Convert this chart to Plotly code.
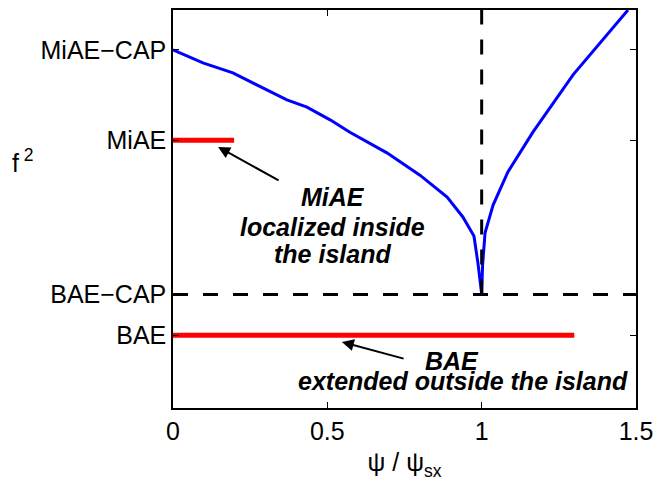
import plotly.graph_objects as go

# y-level positions (arbitrary f^2 units, 0..1 axis range)
level_names = ["BAE", "BAE\u2212CAP", "MiAE", "MiAE\u2212CAP"]
level_values = [0.183, 0.285, 0.673, 0.900]

# continuum curve (left & right of separatrix)
curve_x = [0.0, 0.097, 0.194, 0.282, 0.369, 0.434, 0.509, 0.573, 0.693, 0.800, 0.888, 0.939,
           0.975, 0.988, 0.994, 1.0,
           1.003, 1.011, 1.037, 1.085, 1.166, 1.296, 1.474]
curve_y = [0.900, 0.867, 0.842, 0.807, 0.774, 0.756, 0.724, 0.693, 0.641, 0.585, 0.530, 0.480,
           0.432, 0.364, 0.329, 0.286,
           0.359, 0.440, 0.510, 0.593, 0.693, 0.837, 1.000]

# mode extents
miae_x = [0.0, 0.198]
bae_x = [0.0, 1.30]

# separatrix guides
sep_x = 1.0
x_range = [0.0, 1.5]
y_range = [0.0, 1.0]
x_ticks = [0, 0.5, 1, 1.5]
x_ticklabels = ["0", "0.5", "1", "1.5"]

FONT = "Liberation Sans, Arial, sans-serif"

fig = go.Figure()
fig.add_trace(go.Scatter(x=curve_x, y=curve_y, mode="lines",
                         line=dict(color="#0000ff", width=3), hoverinfo="skip"))
fig.add_trace(go.Scatter(x=miae_x, y=[level_values[2]] * 2, mode="lines",
                         line=dict(color="#ff0000", width=5), hoverinfo="skip"))
fig.add_trace(go.Scatter(x=bae_x, y=[level_values[0]] * 2, mode="lines",
                         line=dict(color="#ff0000", width=5), hoverinfo="skip"))
fig.add_trace(go.Scatter(x=x_range, y=[level_values[1]] * 2, mode="lines",
                         line=dict(color="black", width=3, dash="15px,15px"), hoverinfo="skip"))
fig.add_trace(go.Scatter(x=[sep_x, sep_x], y=[level_values[1], y_range[1]], mode="lines",
                         line=dict(color="black", width=3, dash="15px,15px"), hoverinfo="skip"))

annos = []
def txt(x, y, s):
    annos.append(dict(x=x, y=y, xref="x", yref="y", text="<b><i>" + s + "</i></b>",
                      showarrow=False, font=dict(family=FONT, size=25, color="black"),
                      xanchor="center", yanchor="middle"))

txt(0.518, 0.530, "MiAE")
txt(0.518, 0.455, "localized inside")
txt(0.518, 0.387, "the island")
txt(0.904, 0.118, "BAE")
txt(0.939, 0.068, "extended outside the island")

for (hx, hy, tx, ty) in [(0.146, 0.656, 0.347, 0.570), (0.547, 0.166, 0.752, 0.123)]:
    annos.append(dict(x=hx, y=hy, ax=tx, ay=ty, xref="x", yref="y", axref="x", ayref="y",
                      text="", showarrow=True, arrowhead=2, arrowsize=1.2, arrowwidth=2,
                      arrowcolor="black"))

annos.append(dict(x=-0.325, y=0.62, xref="paper", yref="paper", text="f<sup> 2</sup>",
                  showarrow=False, font=dict(family=FONT, size=25, color="black"),
                  xanchor="center", yanchor="middle"))

fig.update_layout(
    width=653, height=484,
    margin=dict(l=173, r=17, t=10, b=76, autoexpand=False),
    paper_bgcolor="white", plot_bgcolor="white",
    showlegend=False,
    annotations=annos,
    font=dict(family=FONT, size=25, color="black"),
    xaxis=dict(range=x_range, tickvals=x_ticks, ticktext=x_ticklabels, automargin=False,
               ticklabeloverflow="allow",
               showgrid=False, zeroline=False, showline=True, linecolor="black", linewidth=1.5,
               mirror="ticks", ticks="inside", ticklen=6, tickcolor="black", tickwidth=1,
               tickfont=dict(family=FONT, size=25, color="black"),
               title=dict(text="\u03c8 / \u03c8<sub>sx</sub>", font=dict(family=FONT, size=25), standoff=10)),
    yaxis=dict(range=y_range, tickvals=level_values, ticktext=level_names, automargin=False,
               showgrid=False, zeroline=False, showline=True, linecolor="black", linewidth=1.5,
               mirror="ticks", ticks="inside", ticklen=6, tickcolor="black", tickwidth=1,
               tickfont=dict(family=FONT, size=25, color="black")),
)

fig.write_html("out.html")
